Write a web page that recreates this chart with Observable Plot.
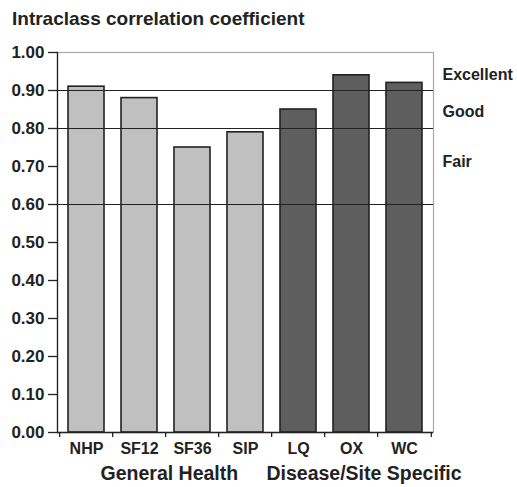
<!DOCTYPE html>
<html>
<head>
<meta charset="utf-8">
<script src="https://cdn.jsdelivr.net/npm/d3@7"></script>
<script src="https://cdn.jsdelivr.net/npm/@observablehq/plot@0.6"></script>
<style>
  body { margin: 0; background: #fff; }
  #wrap { position: relative; width: 517px; height: 487px; font-family: "Liberation Sans", Arial, sans-serif; }
  #title { position: absolute; left: 12px; top: 9px; font-size: 19px; line-height: 19px; font-weight: bold; color: #222; white-space: nowrap; }
  #chart { position: absolute; left: 0; top: 0; }
</style>
</head>
<body>
<div id="wrap">
  <div id="chart"></div>
  <div id="title">Intraclass correlation coefficient</div>
</div>
<script>
const categories = ["NHP", "SF12", "SF36", "SIP", "LQ", "OX", "WC"];
const values = [0.91, 0.88, 0.75, 0.79, 0.85, 0.94, 0.92];
const groups = ["General Health", "General Health", "General Health", "General Health",
                "Disease/Site Specific", "Disease/Site Specific", "Disease/Site Specific"];
const yTicks = [0, 0.1, 0.2, 0.3, 0.4, 0.5, 0.6, 0.7, 0.8, 0.9, 1.0];
const thresholds = [0.6, 0.8, 0.9];
const ratingLabels = ["Excellent", "Good", "Fair"];
const ratingY = [0.942, 0.845, 0.713];

const data = categories.map((c, i) => ({cat: c, value: values[i], group: groups[i]}));
const ratings = ratingLabels.map((t, i) => ({text: t, y: ratingY[i]}));

const W = 517, H = 487, ML = 57, MR = 84, MT = 52, MB = 55;
const half = (W - ML - MR) / categories.length / 2;
const font = {fontSize: 16, fontWeight: "bold", fill: "#222"};

const chart = Plot.plot({
  width: W, height: H,
  marginLeft: ML, marginRight: MR, marginTop: MT, marginBottom: MB,
  style: {fontFamily: '"Liberation Sans", Arial, sans-serif', background: "#fff", color: "#222"},
  x: {domain: categories, paddingInner: 0.33, paddingOuter: 0.165, label: null},
  y: {domain: [0, 1], label: null},
  color: {domain: ["General Health", "Disease/Site Specific"], range: ["#c0c0c0", "#5e5e5e"]},
  marks: [
    Plot.frame({stroke: "#a8a8a8", strokeWidth: 1.2}),
    Plot.barY(data, {x: "cat", y: "value", fill: "group", stroke: "#222", strokeWidth: 1.6}),
    Plot.ruleY(thresholds, {stroke: "#222", strokeWidth: 1}),
    Plot.ruleY([0], {stroke: "#222", strokeWidth: 1.3}),
    Plot.frame({anchor: "left", stroke: "#222", strokeWidth: 1.3}),
    Plot.axisY(yTicks, {tickFormat: d3.format(".2f"), tickSize: 9, tickPadding: 4, stroke: "#222", strokeWidth: 1.3, ...font, fontSize: 17}),
    Plot.axisX({tickSize: 5, dx: -half, text: null, stroke: "#222", strokeWidth: 1.3}),
    Plot.axisX(categories.slice(-1), {tickSize: 5, dx: half, text: null, stroke: "#222", strokeWidth: 1.3}),
    Plot.axisX({tickSize: 0, tickPadding: 10, ...font}),
    Plot.text(["General Health"], {x: ["SF12"], frameAnchor: "bottom", dx: half + 3, dy: 47, ...font, fontSize: 19.5}),
    Plot.text(["Disease/Site Specific"], {x: ["OX"], frameAnchor: "bottom", dx: 12.5, dy: 47, ...font, fontSize: 19.5}),
    Plot.text(ratings, {y: "y", text: "text", frameAnchor: "right", dx: 9, textAnchor: "start", ...font})
  ]
});
document.getElementById("chart").appendChild(chart);
</script>
</body>
</html>
